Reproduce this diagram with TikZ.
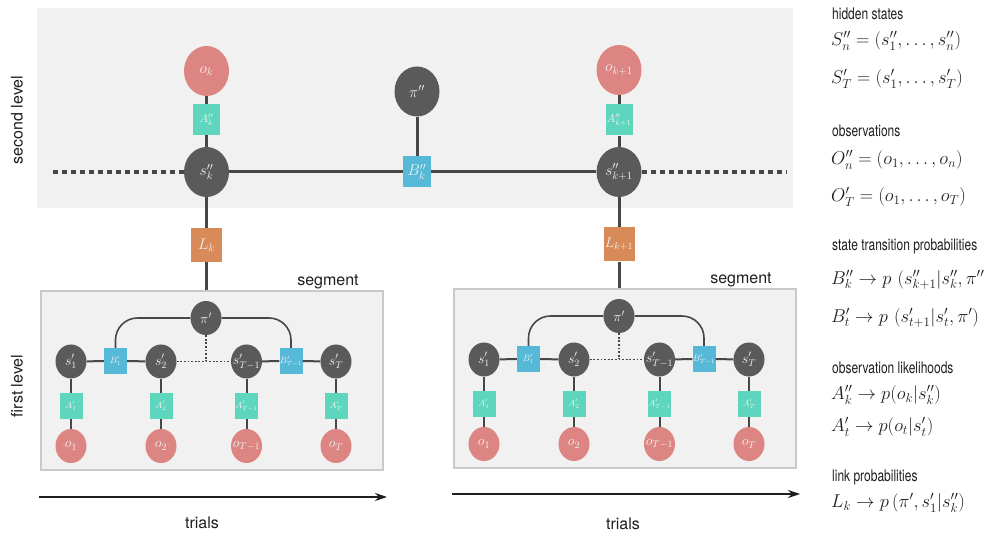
\RequirePackage{fix-cm}
\documentclass[tikz,border=0pt]{standalone}
\usepackage{fontspec}
\usetikzlibrary{shapes.geometric,arrows.meta}
\newfontfamily\hv{TeX Gyre Heros}
\newfontfamily\hvn[FakeStretch=0.75]{TeX Gyre Heros}
\definecolor{panel}{HTML}{F1F1F1}
\definecolor{boxline}{HTML}{C9C9C9}
\definecolor{dgray}{HTML}{5A5A5A}
\definecolor{obsred}{HTML}{DD8582}
\definecolor{aturq}{HTML}{5ED6BD}
\definecolor{bblue}{HTML}{56B9D8}
\definecolor{lorange}{HTML}{D88A58}
\definecolor{conn}{HTML}{474747}
\definecolor{ntext}{HTML}{F2F2F2}
\definecolor{ink}{HTML}{1E1E1E}
\newcommand\fs[1]{\fontsize{#1}{#1}\selectfont}
\tikzset{
  lab/.style={text=ntext, inner sep=0pt},
  lab15/.style={lab, font=\fs{15.5}},
  lab14/.style={lab, font=\fs{14}},
  lab11/.style={lab, font=\fs{11.5}},
  lab9/.style={lab, font=\fs{9}},
  bigE/.style={ellipse, fill=dgray, minimum width=45pt, minimum height=50pt, inner sep=0pt},
  bigO/.style={bigE, fill=obsred},
  smE/.style={ellipse, fill=dgray, minimum width=31pt, minimum height=34pt, inner sep=0pt},
  smO/.style={smE, fill=obsred},
  bigA/.style={rectangle, fill=aturq, minimum width=27pt, minimum height=31pt, inner sep=0pt},
  bigB/.style={rectangle, fill=bblue, minimum width=28pt, minimum height=31pt, inner sep=0pt},
  lsq/.style={rectangle, fill=lorange, minimum width=31pt, minimum height=34pt, inner sep=0pt},
  smA/.style={rectangle, fill=aturq, minimum width=23pt, minimum height=26pt, inner sep=0pt},
  smB/.style={rectangle, fill=bblue, minimum width=23pt, minimum height=26pt, inner sep=0pt},
  segbox/.style={rectangle, fill=panel, draw=boxline, line width=1.5pt, minimum width=342pt, minimum height=179pt, inner sep=0pt},
  topline/.style={draw=conn, line width=3pt},
  topdots/.style={draw=conn, line width=4pt, dash pattern=on 5pt off 4pt},
  segline/.style={draw=conn, line width=2pt},
  segthin/.style={draw=conn, line width=1.6pt, rounded corners=22pt},
  segdots/.style={draw=conn, line width=1.8pt, dash pattern=on 1.8pt off 1.8pt},
  hvlab/.style={font=\hv\fs{16}, text=ink, inner sep=0pt},
  legh/.style={font=\hvn\fs{16}, text=ink, inner sep=0pt, anchor=west},
  legm/.style={font=\fs{18.5}, text=ink, inner sep=0pt, anchor=west},
  trialarrow/.style={draw=ink, line width=1.5pt, -{Stealth[length=12pt,width=8pt]}},
}
\newcommand\segment[3]{%
\begin{scope}[shift={(#2,#3)}]
  \node[segbox] (#1box) at (212,380.5) {};
  \node[hvlab] (#1title) at (328,282) {segment};
  \node[smE, label={[lab14]center:$\pi'$}] (#1pi) at (206,318) {};
  \node[smE, label={[lab14]center:$s'_1$}] (#1s1) at (71,361.5) {};
  \node[smB, label={[lab9]center:$B'_1$}] (#1B1) at (115.5,361) {};
  \node[smE, label={[lab14]center:$s'_2$}] (#1s2) at (161,361.5) {};
  \node[smE, label={[lab14]center:$s'_{T-1}$}] (#1s3) at (246.5,361.5) {};
  \node[smB, label={[lab9]center:$B'_{T-1}$}] (#1B3) at (291,361) {};
  \node[smE, label={[lab14]center:$s'_T$}] (#1s4) at (336,361.5) {};
  \node[smA, label={[lab9]center:$A'_1$}] (#1A1) at (71,406) {};
  \node[smA, label={[lab9]center:$A'_2$}] (#1A2) at (161,406) {};
  \node[smA, label={[lab9]center:$A'_{T-1}$}] (#1A3) at (246.5,406) {};
  \node[smA, label={[lab9]center:$A'_T$}] (#1A4) at (336,406) {};
  \node[smO, label={[lab14]center:$o_1$}] (#1o1) at (71,446) {};
  \node[smO, label={[lab14]center:$o_2$}] (#1o2) at (161,446) {};
  \node[smO, label={[lab14]center:$o_{T-1}$}] (#1o3) at (246.5,446) {};
  \node[smO, label={[lab14]center:$o_T$}] (#1o4) at (336,446) {};
\end{scope}
  \draw[segline] (#1s1) -- (#1B1) -- (#1s2);
  \draw[segline] (#1s3) -- (#1B3) -- (#1s4);
  \draw[segdots] (#1s2) -- (#1s3);
  \draw[segdots] (#1pi) -- (#1pi |- #1s2);
  \draw[segthin] (#1pi.west) -| (#1B1.north);
  \draw[segthin] (#1pi.east) -| (#1B3.north);
  \foreach \i in {1,2,3,4} {\draw[segline] (#1s\i) -- (#1A\i) -- (#1o\i);}
}
\begin{document}
\begin{tikzpicture}[x=1pt,y=-1pt]
\useasboundingbox (0,0) rectangle (985,534);
% top panel
\fill[panel] (37,8) rectangle (793,208);
\node[hvlab, rotate=90] (lev2) at (17,120) {second level};
\node[hvlab, rotate=90] (lev1) at (17,386) {first level};

\node[bigO, label={[lab15]center:$o_k$}] (ok) at (206.5,71) {};
\node[bigA, label={[lab11]center:$A''_k$}] (Ak) at (206.5,119.5) {};
\node[bigE, label={[lab15]center:$s''_k$}] (sk) at (206.5,172) {};
\node[bigE, label={[lab15]center:$\pi''$}] (pik) at (417,91.5) {};
\node[bigB, label={[lab15]center:$B''_k$}] (Bk) at (417,172) {};
\node[bigO, label={[lab15]center:$o_{k+1}$}] (ok1) at (619,70) {};
\node[bigA, label={[lab11]center:$A''_{k+1}$}] (Ak1) at (619,120) {};
\node[bigE, label={[lab15]center:$s''_{k+1}$}] (sk1) at (619,172) {};
\coordinate (dl) at (53,172);
\coordinate (dr) at (787,172);

\draw[topline] (ok) -- (Ak) -- (sk);
\draw[topline] (ok1) -- (Ak1) -- (sk1);
\draw[topline] (sk) -- (Bk) -- (sk1);
\draw[topline] (pik) -- (Bk);
\draw[topdots] (dl) -- (sk.west);
\draw[topdots] (sk1.east) -- (dr);

% links
\node[lsq, label={[lab15]center:$L_k$}] (Lk) at (206.5,245) {};
\node[lsq, label={[lab14]center:$L_{k+1}$}] (Lk1) at (619,244.5) {};

\segment{a}{0}{0}
\segment{b}{413}{-2}

\draw[topline] (sk) -- (Lk);
\draw[topline] (Lk) -- (Lk |- abox.north);
\draw[topline] (sk1) -- (Lk1);
\draw[topline] (Lk1) -- (Lk1 |- bbox.north);

% trials
\coordinate (t1a) at (39,497);
\coordinate (t1b) at (387,497);
\coordinate (t2a) at (452,494);
\coordinate (t2b) at (800,494);
\draw[trialarrow] (t1a) -- (t1b);
\draw[trialarrow] (t2a) -- (t2b);
\node[hvlab] (tr1) at (202,523) {trials};
\node[hvlab] (tr2) at (623,524) {trials};

% legend
\node[legh] (h1) at (832,14) {hidden states};
\node[legm] (m1) at (831,41) {$S''_n = (s''_1,\ldots,s''_n)$};
\node[legm] (m2) at (831,79) {$S'_T = (s'_1,\ldots,s'_T)$};
\node[legh] (h2) at (832,131) {observations};
\node[legm] (m3) at (831,160) {$O''_n = (o_1,\ldots,o_n)$};
\node[legm] (m4) at (831,197) {$O'_T = (o_1,\ldots,o_T)$};
\node[legh] (h3) at (832,246) {state transition probabilities};
\node[legm] (m5) at (831,280) {$B''_k \to p\,\left(s''_{k+1}|s''_k,\pi''\right)$};
\node[legm] (m6) at (831,318) {$B'_t \to p\,\left(s'_{t+1}|s'_t,\pi'\right)$};
\node[legh] (h4) at (832,368) {observation likelihoods};
\node[legm] (m7) at (831,395) {$A''_k \to p(o_k|s''_k)$};
\node[legm] (m8) at (831,427) {$A'_t \to p(o_t|s'_t)$};
\node[legh] (h5) at (832,477) {link probabilities};
\node[legm] (m9) at (831,503) {$L_k \to p\left(\pi',s'_1|s''_k\right)$};
\end{tikzpicture}
\end{document}
